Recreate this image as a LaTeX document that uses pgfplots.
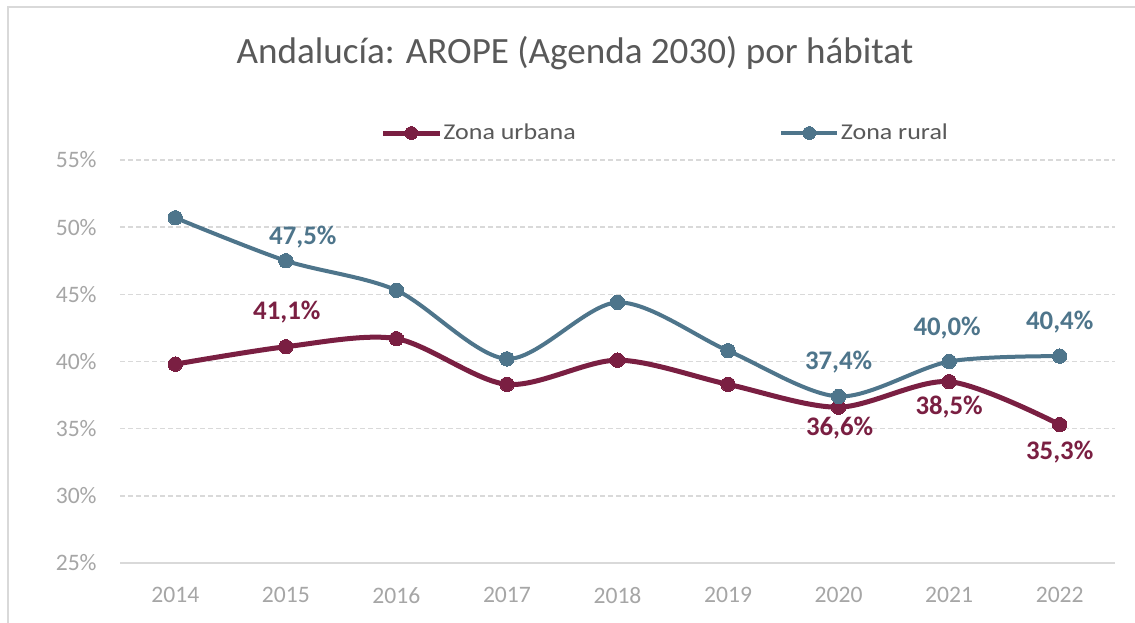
\documentclass[border=0pt]{standalone}
\usepackage{pgfplots}
\pgfplotsset{compat=1.18}
\usepackage{pgfplotstable}
\usepackage{fontspec}
\setmainfont{Carlito}
\newfontfamily\legfont[FakeStretch=1.15]{Carlito}
\definecolor{urb}{RGB}{122,31,66}
\definecolor{rur}{RGB}{78,117,139}
\definecolor{ttl}{RGB}{89,89,89}
\definecolor{tck}{RGB}{166,166,166}
\definecolor{grd}{RGB}{217,217,217}

\pgfplotstableread{
x y
0 39.8
1 41.1
2 41.7
3 38.3
4 40.1
5 38.3
6 36.6
7 38.5
8 35.3
}\urbana

\pgfplotstableread{
x y
0 50.7
1 47.5
2 45.3
3 40.2
4 44.4
5 40.8
6 37.4
7 40.0
8 40.4
}\rural

\pgfplotstableread{
x y dx dy
1 41.1 0.5 17.5
6 36.6 0.5 -10.5
7 38.5 0 -12.5
8 35.3 0 -13.5
}\urbanalab

\pgfplotstableread{
x y dx dy
1 47.5 8.5 12
6 37.4 0 17
7 40.0 -1 16.75
8 40.4 0 17
}\rurallab

\begin{document}
\begin{tikzpicture}
\useasboundingbox (0,0) rectangle (567.5pt,-311pt);
\fill[white] (0,0) rectangle (567.5pt,-311pt);
\draw[grd, line width=1pt] (4pt,-330pt) -- (4pt,-3.5pt) -- (590pt,-3.5pt);
\begin{axis}[
  at={(60pt,-281.5pt)}, anchor=south west,
  scale only axis, width=497.5pt, height=201.5pt,
  xmin=-0.5, xmax=8.5, ymin=25, ymax=55,
  xtick={0,...,8}, xticklabels={2014,2015,2016,2017,2018,2019,2020,2021,2022},
  ytick={25,30,...,55},
  yticklabel={\pgfmathprintnumber{\tick}\%},
  /pgf/number format/assume math mode=true,
  ymajorgrids, grid style={dash pattern=on 2.5pt off 1.5pt, grd, line width=0.75pt},
  axis lines*=left, axis line style={-},
  x axis line style={grd, line width=1.25pt}, y axis line style={draw=none},
  major tick length=0pt,
  tick label style={font=\fontsize{11.8pt}{14pt}\selectfont, text=tck},
  xticklabel style={inner sep=0pt, anchor=north, yshift=-12pt},
  yticklabel style={inner sep=0pt, anchor=east, xshift=-11.5pt},
  clip=false,
  legend columns=2,
  legend style={at={(axis description cs:0.2618,1.067)}, anchor=west, draw=none, fill=none,
    inner sep=0pt, font=\legfont\fontsize{11.3pt}{13pt}\selectfont, text=ttl,
    nodes={inner sep=0.75pt},
    /tikz/every even column/.append style={column sep=101pt}},
  legend image code/.code={\draw[#1, mark repeat=2, mark phase=2, mark size=3.2pt] plot coordinates {(0pt,0pt) (14pt,0pt) (28pt,0pt)};},
]
\addplot[urb, line width=2.5pt, smooth, mark=*, mark size=3.6pt, mark options={solid, fill=urb, draw=urb, line width=0pt}] table[x=x,y=y] {\urbana};
\addlegendentry{Zona urbana}
\addplot[rur, line width=2pt, smooth, mark=*, mark size=3.6pt, mark options={solid, fill=rur, draw=rur, line width=0pt}] table[x=x,y=y] {\rural};
\addlegendentry{Zona rural}

\addplot[draw=none, mark=none, forget plot,
  point meta=y,
  visualization depends on={\thisrow{dx} \as \dx},
  visualization depends on={\thisrow{dy} \as \dy},
  nodes near coords={\pgfmathprintnumber[fixed,fixed zerofill,precision=1,use comma]{\pgfplotspointmeta}\%},
  every node near coord/.append style={anchor=center, xshift=\dx*1pt, yshift=\dy*1pt, inner sep=0pt,
    font=\bfseries\fontsize{13.4pt}{16pt}\selectfont, text=urb}]
  table[x=x,y=y] {\urbanalab};
\addplot[draw=none, mark=none, forget plot,
  point meta=y,
  visualization depends on={\thisrow{dx} \as \dx},
  visualization depends on={\thisrow{dy} \as \dy},
  nodes near coords={\pgfmathprintnumber[fixed,fixed zerofill,precision=1,use comma]{\pgfplotspointmeta}\%},
  every node near coord/.append style={anchor=center, xshift=\dx*1pt, yshift=\dy*1pt, inner sep=0pt,
    font=\bfseries\fontsize{13.4pt}{16pt}\selectfont, text=rur}]
  table[x=x,y=y] {\rurallab};
\end{axis}
\node[anchor=base, text=ttl, font=\fontsize{18.55pt}{22pt}\selectfont, inner sep=0pt] at (287.5pt,-31.5pt) {Andalucía: AROPE (Agenda 2030) por hábitat};
\end{tikzpicture}
\end{document}
